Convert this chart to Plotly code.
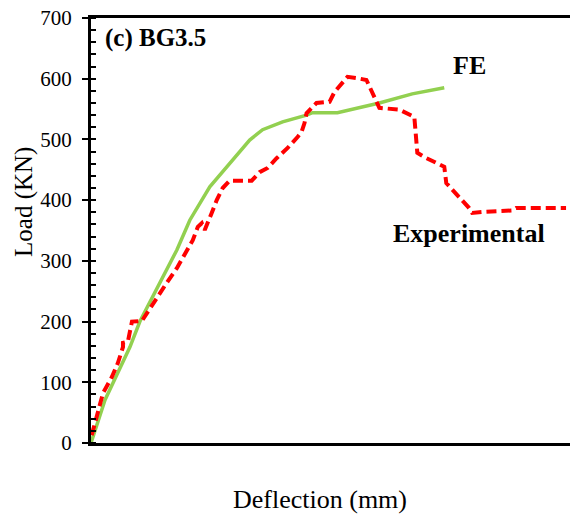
import plotly.graph_objects as go

# Deflection values (mm, axis unlabeled in reference) and loads (kN)
fe_defl = [0.0, 1.17, 3.25, 4.08, 7.17, 8.25, 9.92, 11.58, 13.25, 14.33, 16.0, 18.0, 18.5, 20.58, 24.08, 26.83, 29.5]
fe_load = [0, 71, 158, 200, 318, 367, 422, 461, 499, 516, 529, 540, 544, 544, 560, 575, 585]

exp_defl = [0.06, 0.33, 1.0, 1.75, 2.25, 2.67, 2.67, 3.08, 3.25, 3.42, 4.25, 4.67, 5.33, 6.33, 7.17,
            7.67, 8.5, 8.92, 9.25, 9.5, 9.75, 10.08, 10.5, 11.0, 11.58, 13.42, 14.08, 14.75, 15.5,
            16.42, 17.25, 17.58, 17.83, 18.0, 18.83, 19.92, 20.33, 21.42, 22.17, 23.0, 24.08, 25.75, 27.0,
            27.25, 27.83, 28.83, 29.5, 29.67, 30.75, 31.58, 31.83, 33.0, 35.17, 35.5, 39.67]
exp_load = [13, 33, 82, 109, 132, 158, 165, 167, 186, 200, 201, 214, 233, 264, 288,
            306, 334, 356, 362, 351, 362, 379, 400, 420, 432, 432, 446, 453, 469,
            486, 504, 512, 527, 543, 560, 562, 578, 603, 601, 598, 552, 549, 537,
            478, 471, 461, 455, 428, 405, 387, 379, 381, 383, 387, 387]

y_ticks = [0, 100, 200, 300, 400, 500, 600, 700]

fig = go.Figure()
fig.add_trace(go.Scatter(x=fe_defl, y=fe_load, mode="lines",
                         line=dict(color="#92D050", width=3.5),
                         showlegend=False, cliponaxis=False))
fig.add_trace(go.Scatter(x=exp_defl, y=exp_load, mode="lines",
                         line=dict(color="#FF0000", width=4, dash="10px,5px"),
                         showlegend=False, cliponaxis=False))

font_serif = "Liberation Serif"

fig.update_layout(
    width=570, height=516,
    margin=dict(l=91, r=0, t=18, b=73),
    paper_bgcolor="white", plot_bgcolor="white",
    font=dict(family=font_serif, color="black"),
    xaxis=dict(range=[0, 40], showline=True, linecolor="black", linewidth=3,
               mirror=True, showticklabels=False, ticks="", showgrid=False,
               zeroline=False),
    yaxis=dict(range=[0, 700], tickvals=y_ticks, ticktext=[str(v) for v in y_ticks],
               showline=True, linecolor="black", linewidth=3,
               ticks="outside", ticklen=6, tickwidth=2, tickcolor="black",
               tickfont=dict(size=21, family=font_serif), ticklabelstandoff=6,
               minor=dict(ticks="inside", dtick=20, ticklen=5, tickwidth=2, tickcolor="black"),
               showgrid=False, zeroline=False),
    annotations=[
        dict(text="Load (KN)", xref="paper", yref="paper", x=-0.14, y=0.567,
             textangle=-90, xanchor="center", yanchor="middle", showarrow=False,
             font=dict(size=25, family=font_serif)),
        dict(text="Deflection (mm)", xref="paper", yref="paper", x=0.478, y=-0.132,
             xanchor="center", yanchor="middle", showarrow=False,
             font=dict(size=26, family=font_serif)),
        dict(text="<b>(c) BG3.5</b>", xref="paper", yref="paper", x=0.025, y=0.953,
             xanchor="left", yanchor="middle", showarrow=False,
             font=dict(size=25, family=font_serif)),
        dict(text="<b>FE</b>", xref="paper", yref="paper", x=0.791, y=0.889,
             xanchor="center", yanchor="middle", showarrow=False,
             font=dict(size=26, family=font_serif)),
        dict(text="<b>Experimental</b>", xref="paper", yref="paper", x=0.789, y=0.492,
             xanchor="center", yanchor="middle", showarrow=False,
             font=dict(size=26, family=font_serif)),
    ],
)

fig.write_html("out.html")
